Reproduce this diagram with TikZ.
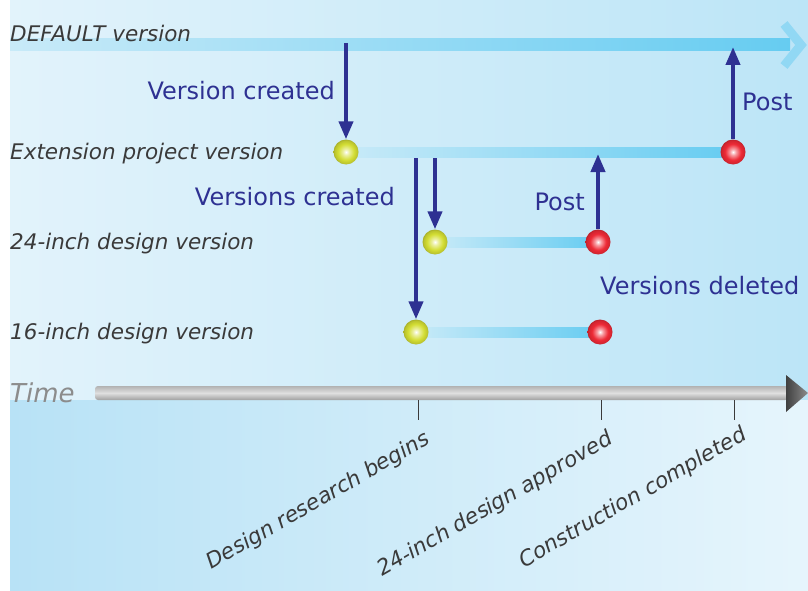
\documentclass[tikz,border=0pt]{standalone}
\usepackage{fontspec}
\setmainfont{DejaVu Sans}
\usetikzlibrary{arrows.meta,calc}
\definecolor{navy}{HTML}{2E3192}
\definecolor{lanegray}{HTML}{3A3A3A}
\definecolor{timegray}{HTML}{8C8C8C}
\definecolor{bgtl}{HTML}{E2F3FB}
\definecolor{bgtr}{HTML}{BCE5F7}
\definecolor{bgbl}{HTML}{B8E2F6}
\definecolor{bgbr}{HTML}{E6F5FC}
\definecolor{trackl}{HTML}{C8EAF8}
\definecolor{trackr}{HTML}{66CCF1}
\definecolor{newyellow}{HTML}{D4DE34}
\definecolor{postred}{HTML}{EE2A36}
\pgfdeclareradialshading{newball}{\pgfpoint{0bp}{0bp}}{color(0bp)=(white);
 color(6bp)=(newyellow!45!white); color(16bp)=(newyellow); color(23bp)=(newyellow!88!black);
 color(25bp)=(newyellow!80!black); color(50bp)=(newyellow!80!black)}
\pgfdeclareradialshading{postball}{\pgfpoint{0bp}{0bp}}{color(0bp)=(white);
 color(6bp)=(postred!45!white); color(16bp)=(postred); color(23bp)=(postred!88!black);
 color(25bp)=(postred!80!black); color(50bp)=(postred!80!black)}
\tikzset{
 lane/.style={anchor=west,inner sep=0,text=lanegray,font=\fontsize{21.5}{24}\selectfont\itshape},
 note/.style={inner sep=0,text=navy,font=\fontsize{24}{28}\selectfont},
 newdot/.style={circle,minimum size=25pt,inner sep=0,shading=newball},
 postdot/.style={circle,minimum size=25pt,inner sep=0,shading=postball},
 navyarrow/.style={draw=navy,line width=4pt,-{Triangle[length=18pt,width=14pt]}},
 track/.style={left color=trackl,right color=trackr},
 timetick/.style={draw=lanegray,line width=1pt},
 milestone/.style={rotate=30,anchor=base east,inner sep=0,text=lanegray,font=\fontsize{21.5}{24}\selectfont\itshape}
}

\begin{document}
\begin{tikzpicture}[x=1pt,y=-1pt]
\path[use as bounding box] (0,0) rectangle (808,591);
% background
\shade[left color=bgtl,right color=bgtr] (10,0) rectangle (808,400);
\shade[left color=bgbl,right color=bgbr] (10,400) rectangle (808,591);
% where the versions sit
\coordinate (def-start) at (10,45);
\coordinate (def-end) at (790,45);
\coordinate (ext-a) at (346,152);
\coordinate (ext-b) at (733,152);
\coordinate (in24-a) at (435,242);
\coordinate (in24-b) at (598,242);
\coordinate (in16-a) at (416,332);
\coordinate (in16-b) at (600,332);
% tracks
\shade[track] ($(def-start)+(0,-6)$) rectangle ($(def-end)+(0,6)$);
\draw[trackr!50!bgtr,line width=9pt] (784,24) -- (801,45) -- (784,66);
\shade[track] ($(ext-a)+(0,-5)$) rectangle ($(ext-b)+(0,5)$);
\shade[track] ($(in24-a)+(0,-5)$) rectangle ($(in24-b)+(0,5)$);
\shade[track] ($(in16-a)+(0,-5)$) rectangle ($(in16-b)+(0,5)$);
% labels on the left
\node[lane] (def-label) at (10,33) {DEFAULT version};
\node[lane] (ext-label) at (10,154) {Extension project version};
\node[lane] (in24-label) at (10,244) {24-inch design version};
\node[lane] (in16-label) at (10,334) {16-inch design version};
% dots
\node[newdot] (ext-new) at (ext-a) {};
\node[postdot] (ext-post) at (ext-b) {};
\node[newdot] (in24-new) at (in24-a) {};
\node[postdot] (in24-post) at (in24-b) {};
\node[newdot] (in16-new) at (in16-a) {};
\node[postdot] (in16-post) at (in16-b) {};
% arrows
\coordinate (vc-from) at (346,43);
\coordinate (def-post) at (733,47);
\coordinate (vc24-from) at (435,158);
\coordinate (vc16-from) at (416,158);
\coordinate (ext-merge) at (598,154);
\draw[navyarrow] (vc-from) -- (ext-new.north);
\draw[navyarrow] (ext-post.north) -- (def-post);
\draw[navyarrow] (vc16-from) -- (in16-new.north);
\draw[navyarrow] (vc24-from) -- (in24-new.north);
\draw[navyarrow] (in24-post.north) -- (ext-merge);
\node[note,anchor=east] (vc-note) at (335,91) {Version created};
\node[note,anchor=west] (post-note) at (742,102) {Post};
\node[note,anchor=east] (vcs-note) at (395,197) {Versions created};
\node[note,anchor=east] (post24-note) at (585,202) {Post};
\node[note,anchor=west] (del-note) at (600,286) {Versions deleted};
% time axis
\node[anchor=west,inner sep=0,text=timegray,font=\fontsize{26}{30}\selectfont\itshape] (time-label) at (10,393) {Time};
\shade[top color=gray!60,bottom color=gray!75,middle color=gray!25,rounded corners=3pt] (95,386) rectangle (788,400);
\shade[left color=black!75,right color=black!45] (786,375) -- (808,393) -- (786,412) -- cycle;
\coordinate (t1) at (418,400);
\coordinate (t2) at (601,400);
\coordinate (t3) at (734,400);
\draw[timetick] (t1) -- ++(0,20) coordinate (t1-end);
\draw[timetick] (t2) -- ++(0,20) coordinate (t2-end);
\draw[timetick] (t3) -- ++(0,20) coordinate (t3-end);
\node[milestone] (m1) at ($(t1-end)+(13,23)$) {Design research begins};
\node[milestone] (m2) at ($(t2-end)+(13,23)$) {24-inch design approved};
\node[milestone] (m3) at ($(t3-end)+(14,19)$) {Construction completed};
\end{tikzpicture}
\end{document}
